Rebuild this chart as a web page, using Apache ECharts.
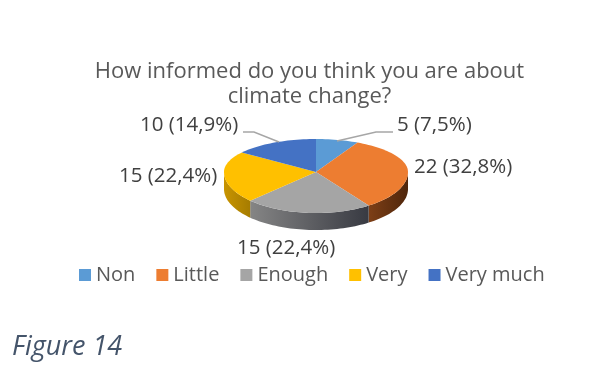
<!DOCTYPE html>
<html>
<head>
<meta charset="utf-8">
<style>html,body{margin:0;padding:0;background:#fff}#chart{width:616px;height:387px}</style>
<script src="https://cdn.jsdelivr.net/npm/echarts@6/dist/echarts.min.js"></script>
</head>
<body>
<div id="chart"></div>
<script>
// Survey answers
const categories = ['Non', 'Little', 'Enough', 'Very', 'Very much'];
const answers = [5, 22, 15, 15, 10];
const colors = ['#5b9bd5', '#ed7d31', '#a5a5a5', '#ffc000', '#4472c4'];
const wallColors = [
  ['#3a6a94', '#3a6a94'],
  ['#7d3f17', '#4f260b'],
  ['#858585', '#383a42'],
  ['#c89400', '#a67c00'],
  ['#2f4f88', '#2f4f88']
];

// Label anchors and leader lines around the tilted disc
const labelSpots = [
  { x: 397, y: 125 },
  { x: 414, y: 167 },
  { x: 237, y: 248 },
  { x: 119, y: 176 },
  { x: 140, y: 125 }
];
const leaderLines = [
  [[393, 132], [376, 132], [337, 141]],
  null,
  null,
  null,
  [[243, 132], [254, 132], [279, 142]]
];

// Disc geometry: the near half of the ellipse is a little deeper than the far half
const cx = 316, cy = 172, rx = 92, ryBack = 33, ryFront = 41, depth = 17;
const total = answers.reduce((a, b) => a + b, 0);

function rim(deg, drop) {
  const t = deg * Math.PI / 180;
  const c = Math.cos(t);
  return [cx + rx * Math.sin(t), cy - (c > 0 ? ryBack : ryFront) * c + (drop || 0)];
}
function arc(from, to, drop) {
  const pts = [];
  const n = Math.max(2, Math.ceil((to - from) / 2));
  for (let i = 0; i <= n; i++) pts.push(rim(from + (to - from) * i / n, drop));
  return pts;
}
function percentText(v) {
  return v + ' (' + (v / total * 100).toFixed(1).replace('.', ',') + '%)';
}

function renderSlice(params, api) {
  const i = params.seriesIndex;
  const before = answers.slice(0, i).reduce((a, b) => a + b, 0);
  const start = before / total * 360;
  const end = start + api.value(0) / total * 360;
  const children = [];

  // Front wall: only the part of the slice between 90° and 270° is visible
  const wFrom = Math.max(start, 90), wTo = Math.min(end, 270);
  if (wTo > wFrom) {
    children.push({
      type: 'polygon',
      z2: 1,
      shape: { points: arc(wFrom, wTo, 0).concat(arc(wFrom, wTo, depth).reverse()) },
      style: {
        fill: new echarts.graphic.LinearGradient(0, 0, 1, 0, [
          { offset: 0, color: wallColors[i][0] },
          { offset: 1, color: wallColors[i][1] }
        ])
      }
    });
  }

  // Top face
  children.push({
    type: 'polygon',
    z2: 2,
    shape: { points: [[cx, cy]].concat(arc(start, end, 0)) },
    style: { fill: colors[i] }
  });

  if (leaderLines[i]) {
    children.push({
      type: 'polyline',
      z2: 3,
      shape: { points: leaderLines[i] },
      style: { stroke: '#a6a6a6', lineWidth: 1.5, fill: 'none' }
    });
  }

  children.push({
    type: 'text',
    z2: 4,
    style: {
      x: labelSpots[i].x,
      y: labelSpots[i].y,
      text: percentText(api.value(0)),
      fill: '#404040',
      font: '20.5px "Open Sans", sans-serif',
      align: 'left',
      verticalAlign: 'middle'
    }
  });
  return { type: 'group', children };
}

const chart = echarts.init(document.getElementById('chart'), null, { renderer: 'canvas' });
chart.setOption({
  animation: false,
  backgroundColor: '#ffffff',
  title: [
    {
      text: 'How informed do you think you are about\nclimate change?',
      left: 304.5,
      top: 54,
      textAlign: 'center',
      textStyle: {
        color: '#595959',
        fontFamily: '"Open Sans", sans-serif',
        fontWeight: 'normal',
        fontSize: 22,
        lineHeight: 25
      }
    },
    {
      text: 'Figure 14',
      left: 7,
      top: 329,
      textStyle: {
        color: '#44546a',
        fontFamily: '"Open Sans", sans-serif',
        fontStyle: 'italic',
        fontWeight: 'normal',
        fontSize: 27
      }
    }
  ],
  legend: {
    data: categories,
    left: 74,
    top: 260,
    icon: 'rect',
    itemWidth: 12,
    itemHeight: 12,
    itemGap: 21,
    selectedMode: false,
    textStyle: {
      color: '#595959',
      fontFamily: '"Open Sans", sans-serif',
      fontSize: 20
    }
  },
  series: categories.map((name, i) => ({
    type: 'custom',
    name,
    coordinateSystem: 'none',
    itemStyle: { color: colors[i] },
    data: [[answers[i]]],
    renderItem: renderSlice
  }))
});
</script>
</body>
</html>
